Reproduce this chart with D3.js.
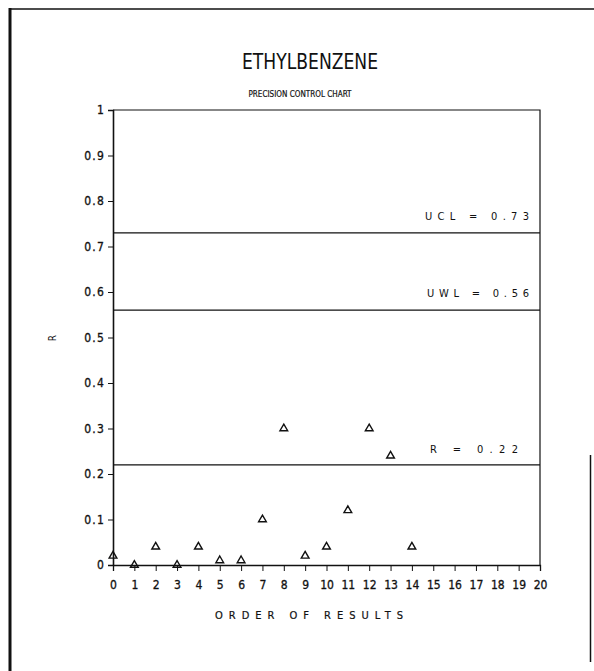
<!DOCTYPE html>
<html>
<head>
<meta charset="utf-8">
<script src="https://cdn.jsdelivr.net/npm/d3@7"></script>
<style>
  html, body { margin: 0; padding: 0; background: #fff; }
  svg { display: block; }
  text { font-family: "Liberation Sans Narrow", "DejaVu Sans Condensed", sans-serif; fill: #111; }
</style>
</head>
<body>
<script>
// Range results in order of analysis
const orders = [0, 1, 2, 3, 4, 5, 6, 7, 8, 9, 10, 11, 12, 13, 14];
const ranges = [0.02, 0, 0.04, 0, 0.04, 0.01, 0.01, 0.10, 0.30, 0.02, 0.04, 0.12, 0.30, 0.24, 0.04];

// Control limits
const limitNames = ["UCL", "UWL", "R"];
const limitValues = [0.73, 0.56, 0.22];

// Axis ticks
const xTicks = d3.range(0, 21);
const yTicks = [0, 0.1, 0.2, 0.3, 0.4, 0.5, 0.6, 0.7, 0.8, 0.9, 1];
const yTickLabels = ["0", "0.1", "0.2", "0.3", "0.4", "0.5", "0.6", "0.7", "0.8", "0.9", "1"];

const W = 594, H = 671;
const svg = d3.select("body").append("svg").attr("width", W).attr("height", H);

const x = d3.scaleLinear().domain([0, 20]).range([113, 540]);
const y = d3.scaleLinear().domain([0, 1]).range([565, 110]);

const ink = "#111";
const font = "Liberation Sans Narrow, DejaVu Sans Condensed, sans-serif";

// Page frame
svg.append("line").attr("x1", 10).attr("x2", W).attr("y1", 9).attr("y2", 9)
  .attr("stroke", ink).attr("stroke-width", 1.5);
svg.append("line").attr("x1", 10).attr("x2", 10).attr("y1", 8).attr("y2", H)
  .attr("stroke", ink).attr("stroke-width", 3);
svg.append("line").attr("x1", 590.5).attr("x2", 590.5).attr("y1", 455).attr("y2", 662)
  .attr("stroke", ink).attr("stroke-width", 1.5);

// Titles
svg.append("text").attr("x", 310).attr("y", 69)
  .attr("text-anchor", "middle").attr("font-size", 22)
  .attr("textLength", 136).attr("lengthAdjust", "spacingAndGlyphs")
  .text("ETHYLBENZENE");
svg.append("text").attr("x", 300).attr("y", 97)
  .attr("text-anchor", "middle").attr("font-size", 9)
  .attr("stroke", ink).attr("stroke-width", 0.2)
  .attr("textLength", 103).attr("lengthAdjust", "spacingAndGlyphs")
  .text("PRECISION CONTROL CHART");

// Plot box (top and right edges)
svg.append("path")
  .attr("d", `M${x(0)},${y(1)}H${x(20)}V${y(0)}`)
  .attr("fill", "none").attr("stroke", ink).attr("stroke-width", 1.2);

// Y axis
const yAxis = svg.append("g").attr("transform", `translate(${x(0)},0)`)
  .call(d3.axisLeft(y).tickValues(yTicks).tickSize(5).tickPadding(3)
    .tickFormat((d, i) => yTickLabels[i]));
yAxis.select(".domain").attr("stroke", ink).attr("stroke-width", 1.6);
yAxis.selectAll(".tick line").attr("stroke", ink).attr("stroke-width", 1);
yAxis.selectAll(".tick text").attr("font-size", 12).attr("letter-spacing", 1.2)
  .attr("font-family", font).attr("fill", ink)
  .attr("stroke", ink).attr("stroke-width", 0.3);

// X axis
const xAxis = svg.append("g").attr("transform", `translate(0,${y(0)})`)
  .call(d3.axisBottom(x).tickValues(xTicks).tickSize(6).tickPadding(9)
    .tickFormat(d3.format("d")));
xAxis.select(".domain").attr("stroke", ink).attr("stroke-width", 1.3);
xAxis.selectAll(".tick line").attr("stroke", ink).attr("stroke-width", 1);
xAxis.selectAll(".tick text").attr("font-size", 12)
  .attr("font-family", font).attr("fill", ink)
  .attr("stroke", ink).attr("stroke-width", 0.3);

// Axis titles
svg.append("text").attr("x", 309).attr("y", 619)
  .attr("text-anchor", "middle").attr("font-size", 11)
  .attr("stroke", ink).attr("stroke-width", 0.2)
  .attr("textLength", 188).attr("lengthAdjust", "spacing")
  .text("ORDER  OF  RESULTS");
svg.append("text")
  .attr("transform", "translate(56,338) rotate(-90)")
  .attr("text-anchor", "middle").attr("font-size", 10)
  .text("R");

// Control limit lines and labels
const labelRight = [529, 529, 518];
const labelWidth = [104, 102, 88];
limitValues.forEach((v, i) => {
  svg.append("line").attr("x1", x(0)).attr("x2", x(20)).attr("y1", y(v)).attr("y2", y(v))
    .attr("stroke", ink).attr("stroke-width", 1.2);
  const label = `${limitNames[i]}  =  ${v.toFixed(2)}`;
  svg.append("text")
    .attr("x", labelRight[i] - labelWidth[i]).attr("y", y(v) - (i === 2 ? 12 : 13))
    .attr("font-size", 11)
    .attr("textLength", labelWidth[i]).attr("lengthAdjust", "spacing")
    .text(label);
});

// Range points as open triangles
const tri = d3.symbol().type(d3.symbolTriangle).size(26);
svg.append("g").selectAll("path").data(orders)
  .join("path")
  .attr("transform", (d, i) => `translate(${x(d)},${y(ranges[i])})`)
  .attr("d", tri)
  .attr("fill", "none").attr("stroke", ink).attr("stroke-width", 1.4);
</script>
</body>
</html>
